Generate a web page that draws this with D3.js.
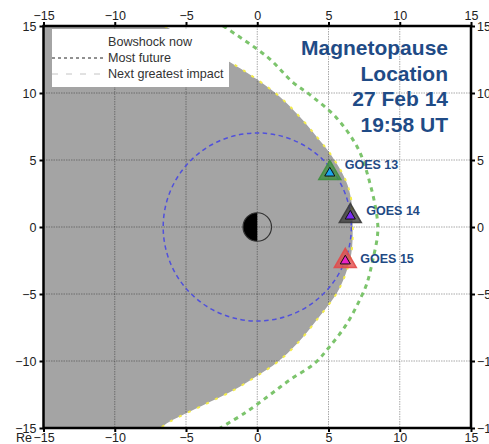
<!DOCTYPE html>
<html>
<head>
<meta charset="utf-8">
<script src="https://cdn.jsdelivr.net/npm/d3@7"></script>
<style>
  html, body { margin: 0; padding: 0; background: #fff; }
  svg { display: block; font-family: "Liberation Sans", Arial, sans-serif; }
</style>
</head>
<body>
<svg id="chart" width="489" height="444"></svg>
<script>
// Axis ticks (Earth radii)
const tickValues = [-15, -10, -5, 0, 5, 10, 15];
const gridValues = [-10, -5, 0, 5, 10];

// Magnetopause boundary (x, y in Re), dayside nose on the +x side
const mpY = [15, 12.3, 11.0, 9.7, 8.2, 6.7, 5.5, 3.5, 2.0, 0, -2.0, -3.5, -4.9, -6.9, -8.7, -10.1, -11.1, -12.2, -13.3, -14.5, -15];
const mpX = [-6.5, -1.9, 0.0, 1.6, 3.0, 4.2, 5.1, 6.2, 6.6, 6.7, 6.6, 6.2, 5.6, 4.2, 2.8, 1.4, 0.0, -1.7, -3.8, -6.1, -6.8];

// Bow shock curve (x, y in Re)
const bsY = [15, 12.7, 10.8, 9.7, 8.1, 5.8, 3.3, 0.8, -0.5, -2.5, -4.2, -5.2, -7.2, -8.9, -10.2, -11.4, -12.6, -13.9, -15];
const bsX = [-2.4, 0.7, 2.5, 3.9, 5.6, 7.1, 7.9, 8.4, 8.45, 8.1, 7.7, 7.3, 6.3, 5.1, 4.0, 2.3, 0.8, -0.9, -2.6];

// Geosynchronous orbit radius and Earth radius (Re)
const geoRadius = 6.6;
const earthRadius = 1;

// GOES spacecraft positions (Re)
const satNames = ["GOES 13", "GOES 14", "GOES 15"];
const satX = [5.09, 6.53, 6.18];
const satY = [4.02, 0.81, -2.54];
const satOuter = ["#3f8f3f", "#3c3c3c", "#e24a4a"];
const satInner = ["#1aa6ee", "#7a2cf2", "#ea22c6"];

// Title lines
const titleLines = ["Magnetopause", "Location", "27 Feb 14", "19:58 UT"];

// Legend entries
const legendLabels = ["Bowshock now", "Most future", "Next greatest impact"];
const legendColors = ["none", "#222", "#c4c4c4"];
const legendDash = ["", "3,3", "6,8"];

const svg = d3.select("#chart");
const x = d3.scaleLinear().domain([-15, 15]).range([43.5, 471]);
const y = d3.scaleLinear().domain([-15, 15]).range([428, 26]);

svg.append("defs").append("clipPath").attr("id", "plot")
  .append("rect").attr("x", x(-15)).attr("y", y(15))
  .attr("width", x(15) - x(-15)).attr("height", y(-15) - y(15));

const plot = svg.append("g").attr("clip-path", "url(#plot)");

// Magnetosphere shading: from the left edge to the magnetopause
const mp = mpY.map((v, i) => ({ x: mpX[i], y: v }));
const area = d3.area()
  .y(d => y(d.y))
  .x0(x(-15))
  .x1(d => x(d.x))
  .curve(d3.curveCatmullRom);
plot.append("path").datum(mp).attr("d", area).attr("fill", "#a4a4a4");

// Grid
plot.selectAll(".gx").data(gridValues).join("line")
  .attr("x1", d => x(d)).attr("x2", d => x(d))
  .attr("y1", y(15)).attr("y2", y(-15))
  .attr("stroke", "rgba(0,0,0,0.34)").attr("stroke-width", 1)
  .attr("stroke-dasharray", "1.5,1");
plot.selectAll(".gy").data(gridValues).join("line")
  .attr("y1", d => y(d)).attr("y2", d => y(d))
  .attr("x1", x(-15)).attr("x2", x(15))
  .attr("stroke", "rgba(0,0,0,0.34)").attr("stroke-width", 1)
  .attr("stroke-dasharray", "1.5,1");

// Bow shock
const line = d3.line().x(d => x(d.x)).y(d => y(d.y)).curve(d3.curveCatmullRom);
const bs = bsY.map((v, i) => ({ x: bsX[i], y: v }));
plot.append("path").datum(bs).attr("d", line)
  .attr("fill", "none").attr("stroke", "#7cc46c").attr("stroke-width", 3)
  .attr("stroke-dasharray", "4.5,4.5");

// Magnetopause edge
plot.append("path").datum(mp).attr("d", line)
  .attr("fill", "none").attr("stroke", "#f3ec4a").attr("stroke-width", 2)
  .attr("stroke-dasharray", "3,7");

// Geosynchronous orbit
plot.append("circle")
  .attr("cx", x(0)).attr("cy", y(0)).attr("r", x(geoRadius) - x(0))
  .attr("fill", "none").attr("stroke", "#5050dc").attr("stroke-width", 1.5)
  .attr("stroke-dasharray", "4.5,3.5");

// Earth: night side dark
const ex = x(0), ey = y(0), er = x(earthRadius) - x(0);
plot.append("path")
  .attr("d", `M${ex},${ey - er} A${er},${er} 0 0 0 ${ex},${ey + er} Z`)
  .attr("fill", "#000");
plot.append("circle").attr("cx", ex).attr("cy", ey).attr("r", er)
  .attr("fill", "none").attr("stroke", "#333").attr("stroke-width", 1.2);

// Spacecraft
const outerTri = d3.symbol(d3.symbolTriangle, 210);
const innerTri = d3.symbol(d3.symbolTriangle, 44);
satNames.forEach((name, i) => {
  const g = plot.append("g").attr("transform", `translate(${x(satX[i])},${y(satY[i])})`);
  g.append("path").attr("d", outerTri())
    .attr("fill", satOuter[i]).attr("fill-opacity", 0.78)
    .attr("stroke", satOuter[i]).attr("stroke-width", 1.5).attr("stroke-opacity", 0.9);
  g.append("path").attr("d", innerTri())
    .attr("fill", satInner[i]).attr("stroke", "#111").attr("stroke-width", 1);
});
const labelDx = [15, 16, 15];
const labelDy = [-4, -1, 2];
satNames.forEach((name, i) => {
  svg.append("text")
    .attr("x", x(satX[i]) + labelDx[i]).attr("y", y(satY[i]) + labelDy[i])
    .attr("font-size", 12.5).attr("font-weight", "bold").attr("fill", "#1f4a84")
    .text(name);
});

// Legend
const lg = svg.append("g");
lg.append("rect").attr("x", 52).attr("y", 29).attr("width", 177).attr("height", 58).attr("fill", "#fff");
legendLabels.forEach((t, i) => {
  const yy = 46 + i * 16;
  if (legendColors[i] !== "none") {
    lg.append("line").attr("x1", 52).attr("x2", 105)
      .attr("y1", yy - 4).attr("y2", yy - 4)
      .attr("stroke", legendColors[i]).attr("stroke-width", 1)
      .attr("stroke-dasharray", legendDash[i]);
  }
  lg.append("text").attr("x", 108).attr("y", yy)
    .attr("font-size", 12.6).attr("fill", "#333").text(t);
});

// Title
titleLines.forEach((t, i) => {
  svg.append("text").attr("x", 448).attr("y", 55 + i * 25.7)
    .attr("text-anchor", "end").attr("font-size", 21).attr("font-weight", "bold")
    .attr("fill", "#1f4b86").text(t);
});

// Axes on all four sides
function styleAxis(g) {
  g.select(".domain").remove();
  g.selectAll(".tick line").attr("stroke", "#000").attr("stroke-width", 2);
  g.selectAll(".tick text").attr("fill", "#222").attr("font-size", 12.5)
    .attr("font-family", "Liberation Sans, Arial, sans-serif");
}
svg.append("g").attr("transform", `translate(0,${y(-15)})`)
  .call(d3.axisBottom(x).tickValues(tickValues).tickSize(4).tickPadding(1).tickFormat(d3.format("d")))
  .call(styleAxis);
svg.append("g").attr("transform", `translate(0,${y(15)})`)
  .call(d3.axisTop(x).tickValues(tickValues).tickSize(4).tickPadding(2).tickFormat(d3.format("d")))
  .call(styleAxis);
svg.append("g").attr("transform", `translate(${x(-15)},0)`)
  .call(d3.axisLeft(y).tickValues(tickValues).tickSize(4).tickPadding(3).tickFormat(d3.format("d")))
  .call(styleAxis);
svg.append("g").attr("transform", `translate(${x(15)},0)`)
  .call(d3.axisRight(y).tickValues(tickValues).tickSize(4).tickPadding(2).tickFormat(d3.format("d")))
  .call(styleAxis);

// Unit label, set just left of the first bottom tick label
svg.append("text").attr("x", 32).attr("y", 442).attr("text-anchor", "end")
  .attr("font-size", 12.5).attr("fill", "#222").text("Re");

// Frame
svg.append("rect").attr("x", x(-15)).attr("y", y(15))
  .attr("width", x(15) - x(-15)).attr("height", y(-15) - y(15))
  .attr("fill", "none").attr("stroke", "#000").attr("stroke-width", 2.5);
</script>
</body>
</html>
